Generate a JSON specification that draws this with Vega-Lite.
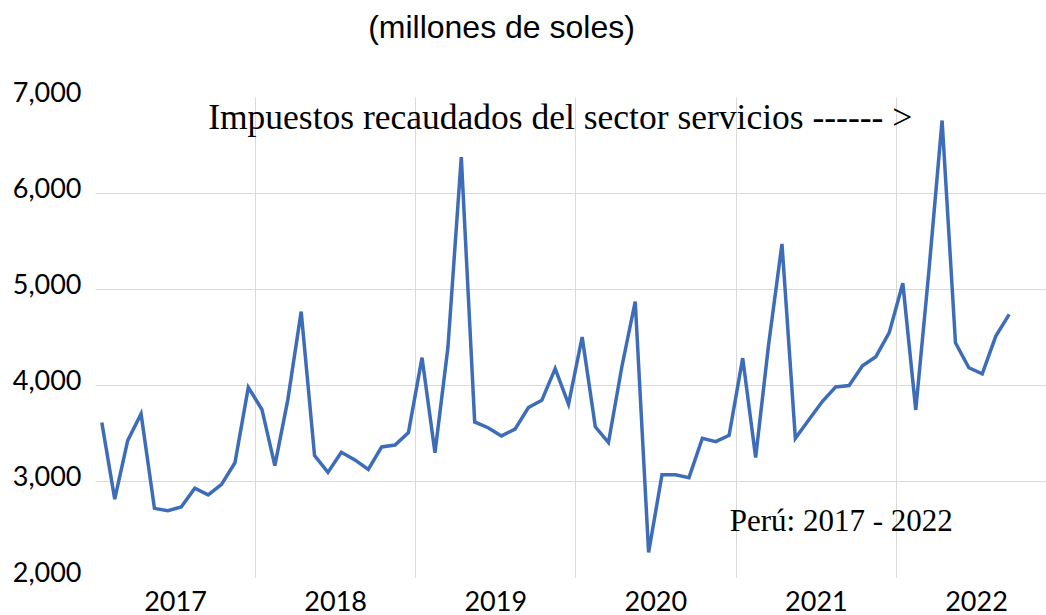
{
  "$schema": "https://vega.github.io/schema/vega-lite/v6.json",
  "width": 951,
  "height": 480,
  "autosize": {"type": "none"},
  "padding": {"left": 95, "top": 97, "right": 0, "bottom": 38},
  "background": "white",
  "config": {"view": {"stroke": null}},
  "title": {
    "text": "(millones de soles)",
    "font": "Liberation Sans",
    "fontSize": 32,
    "fontWeight": "normal",
    "color": "#000000",
    "anchor": "middle",
    "dx": -69,
    "offset": 9,
    "baseline": "alphabetic"
  },
  "data": {
    "values": [
      {"mes": "2017-01-01", "valor": 3610}, {"mes": "2017-02-01", "valor": 2810}, {"mes": "2017-03-01", "valor": 3420}, {"mes": "2017-04-01", "valor": 3700},
      {"mes": "2017-05-01", "valor": 2715}, {"mes": "2017-06-01", "valor": 2690}, {"mes": "2017-07-01", "valor": 2730}, {"mes": "2017-08-01", "valor": 2925},
      {"mes": "2017-09-01", "valor": 2855}, {"mes": "2017-10-01", "valor": 2965}, {"mes": "2017-11-01", "valor": 3190}, {"mes": "2017-12-01", "valor": 3975},
      {"mes": "2018-01-01", "valor": 3745}, {"mes": "2018-02-01", "valor": 3160}, {"mes": "2018-03-01", "valor": 3845}, {"mes": "2018-04-01", "valor": 4765},
      {"mes": "2018-05-01", "valor": 3265}, {"mes": "2018-06-01", "valor": 3090}, {"mes": "2018-07-01", "valor": 3300}, {"mes": "2018-08-01", "valor": 3220},
      {"mes": "2018-09-01", "valor": 3120}, {"mes": "2018-10-01", "valor": 3355}, {"mes": "2018-11-01", "valor": 3375}, {"mes": "2018-12-01", "valor": 3505},
      {"mes": "2019-01-01", "valor": 4285}, {"mes": "2019-02-01", "valor": 3295}, {"mes": "2019-03-01", "valor": 4390}, {"mes": "2019-04-01", "valor": 6375},
      {"mes": "2019-05-01", "valor": 3615}, {"mes": "2019-06-01", "valor": 3555}, {"mes": "2019-07-01", "valor": 3470}, {"mes": "2019-08-01", "valor": 3540},
      {"mes": "2019-09-01", "valor": 3765}, {"mes": "2019-10-01", "valor": 3840}, {"mes": "2019-11-01", "valor": 4170}, {"mes": "2019-12-01", "valor": 3800},
      {"mes": "2020-01-01", "valor": 4500}, {"mes": "2020-02-01", "valor": 3565}, {"mes": "2020-03-01", "valor": 3400}, {"mes": "2020-04-01", "valor": 4190},
      {"mes": "2020-05-01", "valor": 4870}, {"mes": "2020-06-01", "valor": 2255}, {"mes": "2020-07-01", "valor": 3065}, {"mes": "2020-08-01", "valor": 3065},
      {"mes": "2020-09-01", "valor": 3035}, {"mes": "2020-10-01", "valor": 3445}, {"mes": "2020-11-01", "valor": 3410}, {"mes": "2020-12-01", "valor": 3475},
      {"mes": "2021-01-01", "valor": 4280}, {"mes": "2021-02-01", "valor": 3245}, {"mes": "2021-03-01", "valor": 4420}, {"mes": "2021-04-01", "valor": 5470},
      {"mes": "2021-05-01", "valor": 3445}, {"mes": "2021-06-01", "valor": 3635}, {"mes": "2021-07-01", "valor": 3825}, {"mes": "2021-08-01", "valor": 3980},
      {"mes": "2021-09-01", "valor": 3995}, {"mes": "2021-10-01", "valor": 4200}, {"mes": "2021-11-01", "valor": 4295}, {"mes": "2021-12-01", "valor": 4545},
      {"mes": "2022-01-01", "valor": 5060}, {"mes": "2022-02-01", "valor": 3740}, {"mes": "2022-03-01", "valor": 5165}, {"mes": "2022-04-01", "valor": 6755},
      {"mes": "2022-05-01", "valor": 4440}, {"mes": "2022-06-01", "valor": 4180}, {"mes": "2022-07-01", "valor": 4115}, {"mes": "2022-08-01", "valor": 4510},
      {"mes": "2022-09-01", "valor": 4735}
    ]
  },
  "layer": [
    {
      "mark": {"type": "line", "color": "#3D6DB8", "strokeWidth": 3.5, "clip": false},
      "encoding": {
        "x": {
          "field": "mes",
          "type": "temporal",
          "timeUnit": "utcyearmonth",
          "bandPosition": 0.5,
          "scale": {
            "type": "utc",
            "domain": [
              {"year": 2017, "month": 1, "date": 1, "utc": true},
              {"year": 2022, "month": 12, "date": 8, "hours": 21, "utc": true}
            ]
          },
          "axis": {
            "title": null,
            "values": [
              {"year": 2017, "month": 1, "date": 1, "utc": true},
              {"year": 2018, "month": 1, "date": 1, "utc": true},
              {"year": 2019, "month": 1, "date": 1, "utc": true},
              {"year": 2020, "month": 1, "date": 1, "utc": true},
              {"year": 2021, "month": 1, "date": 1, "utc": true},
              {"year": 2022, "month": 1, "date": 1, "utc": true}
            ],
            "labelExpr": "utcFormat(datum.value, '%Y')",
            "labelOffset": 80,
            "labelFlush": false,
            "labelOverlap": false,
            "labelBound": false,
            "labelFont": "Lato",
            "labelFontSize": 27,
            "labelColor": "#000000",
            "labelBaseline": "top",
            "labelPadding": 12,
            "ticks": false,
            "tickSize": 0,
            "domain": false,
            "grid": true,
            "gridColor": {"condition": {"test": "utcyear(datum.value) === 2017", "value": "transparent"}, "value": "#d9d9d9"},
            "gridWidth": 1
          }
        },
        "y": {
          "field": "valor",
          "type": "quantitative",
          "scale": {"domain": [2000, 7000], "nice": false, "zero": false},
          "axis": {
            "title": null,
            "values": [2000, 3000, 4000, 5000, 6000, 7000],
            "format": ",d",
            "labelFont": "Lato",
            "labelFontSize": 27,
            "labelColor": "#000000",
            "labelAlign": "right",
            "labelBaseline": "middle",
            "labelOffset": -4,
            "labelPadding": 14,
            "ticks": false,
            "tickSize": 0,
            "domain": false,
            "grid": true,
            "gridColor": {"condition": {"test": "datum.value === 2000 || datum.value === 7000", "value": "transparent"}, "value": "#d9d9d9"},
            "gridWidth": 1
          }
        }
      }
    },
    {
      "data": {"values": [{}]},
      "mark": {"type": "text", "font": "Liberation Serif", "fontSize": 35.5, "align": "left", "baseline": "alphabetic", "color": "#000000", "clip": false},
      "encoding": {
        "x": {"datum": {"year": 2017, "month": 9, "date": 16, "utc": true}, "type": "temporal"},
        "y": {"datum": 6670, "type": "quantitative"},
        "text": {"value": "Impuestos recaudados del sector servicios ------ >"}
      }
    },
    {
      "data": {"values": [{}]},
      "mark": {"type": "text", "font": "Liberation Serif", "fontSize": 31, "align": "left", "baseline": "alphabetic", "color": "#000000", "clip": false},
      "encoding": {
        "x": {"datum": {"year": 2020, "month": 12, "date": 18, "utc": true}, "type": "temporal"},
        "y": {"datum": 2480, "type": "quantitative"},
        "text": {"value": "Perú: 2017 - 2022"}
      }
    }
  ]
}
